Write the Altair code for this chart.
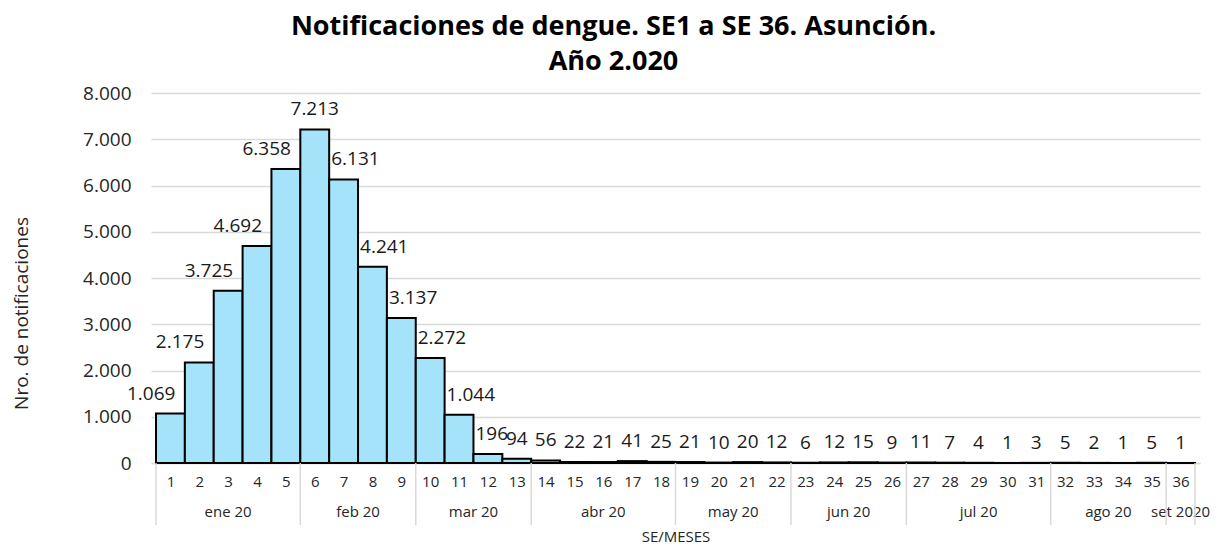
import altair as alt
import pandas as pd

# ---- data ----
weeks = list(range(1, 37))
counts = [1069, 2175, 3725, 4692, 6358, 7213, 6131, 4241, 3137, 2272, 1044, 196,
          94, 56, 22, 21, 41, 25, 21, 10, 20, 12, 6, 12, 15, 9, 11, 7, 4, 1, 3,
          5, 2, 1, 5, 1]
month_names = ["ene 20", "feb 20", "mar 20", "abr 20", "may 20", "jun 20",
               "jul 20", "ago 20", "set 2020"]
month_first_week = [1, 6, 10, 14, 19, 23, 27, 32, 36]
month_last_week = [5, 9, 13, 18, 22, 26, 31, 35, 36]
y_ticks = [0, 1000, 2000, 3000, 4000, 5000, 6000, 7000, 8000]

# label placement rule: shift a label away from a much taller neighbour
side = []
for i, v in enumerate(counts):
    prev = counts[i - 1] if i > 0 else 0
    nxt = counts[i + 1] if i < len(counts) - 1 else 0
    if nxt - v > 500:
        side.append("rise")
    elif prev - v > 500:
        side.append("fall")
    else:
        side.append("center")

df = pd.DataFrame({"week": weeks, "count": counts, "side": side})
months = pd.DataFrame({"month": month_names, "first": month_first_week,
                       "last": month_last_week})
bounds = pd.DataFrame({"b": [f - 0.5 for f in month_first_week] + [month_last_week[-1] + 0.5]})

W, H = 1049, 370
FONT = "Open Sans"
TXT = "#262626"
xscale = alt.Scale(domain=[0.5, 36.5], nice=False, zero=False)
yscale = alt.Scale(domain=[0, 8000], nice=False)

xaxis = alt.Axis(values=weeks, format="d", grid=False, ticks=False,
                 domainColor="#d9d9d9", domainWidth=1.5,
                 labelFontSize=15, labelFont=FONT, labelColor=TXT,
                 labelPadding=11, labelFlush=False,
                 title="SE/MESES", titleFont=FONT, titleFontSize=15,
                 titleFontWeight="normal", titleColor=TXT,
                 titleY=73, titleBaseline="middle")
yaxis = alt.Axis(values=y_ticks, grid=True, gridColor="#d9d9d9",
                 gridWidth=1.5, domain=False, ticks=False,
                 labelExpr="replace(format(datum.value, ','), ',', '.')",
                 labelFontSize=19, labelFont=FONT, labelColor=TXT,
                 labelPadding=20,
                 title="Nro. de notificaciones", titleFont=FONT,
                 titleFontSize=19, titleFontWeight="normal",
                 titleColor=TXT, titleX=-130, titleY=220,
                 titleAlign="center", titleBaseline="middle")

base = alt.Chart(df).transform_calculate(
    x0="datum.week - 0.5",
    x1="datum.week + 0.5",
    label="replace(format(datum.count, ','), ',', '.')",
)

bars = base.mark_bar(fill="#a4e3fa", stroke="black", strokeWidth=2,
                     orient="vertical").encode(
    x=alt.X("x0:Q", scale=xscale, axis=xaxis),
    x2="x1:Q",
    y=alt.Y("count:Q", scale=yscale, axis=yaxis),
    y2=alt.datum(0),
)

def labels(which, xfield, align, dx):
    return base.transform_filter(alt.datum.side == which).mark_text(
        align=align, baseline="alphabetic", dx=dx, dy=-14,
        font=FONT, fontSize=19, color="#1a1a1a",
    ).encode(
        x=alt.X(f"{xfield}:Q", scale=xscale, axis=xaxis),
        y=alt.Y("count:Q", scale=yscale, axis=yaxis),
        text="label:N",
    )

lab_rise = labels("rise", "week", "right", 5)
lab_fall = labels("fall", "x0", "left", 2)
lab_center = labels("center", "week", "center", 0)

month_text = alt.Chart(months).transform_calculate(
    mid="(datum.first + datum.last) / 2"
).mark_text(font=FONT, fontSize=15, color=TXT, baseline="middle").encode(
    x=alt.X("mid:Q", scale=xscale, axis=xaxis),
    y=alt.value(H + 49),
    text="month:N",
)

seps = alt.Chart(bounds).mark_rule(color="#d9d9d9", strokeWidth=1.5).encode(
    x=alt.X("b:Q", scale=xscale, axis=xaxis),
    y=alt.value(H),
    y2=alt.value(H + 62),
)

chart = alt.layer(bars, lab_rise, lab_fall, lab_center, month_text, seps).properties(
    width=W, height=H,
    autosize="none",
    padding={"left": 143, "top": 85, "right": 15, "bottom": 81},
    title=alt.Title(["Notificaciones de dengue. SE1 a SE 36. Asunción.", "Año 2.020"],
                    font=FONT, fontSize=27, fontWeight="bold", color="black",
                    anchor="middle", dx=-62, offset=8, lineHeight=35),
).configure_view(stroke=None)

chart.save("out.html", embed_options={"renderer": "svg", "actions": False})
